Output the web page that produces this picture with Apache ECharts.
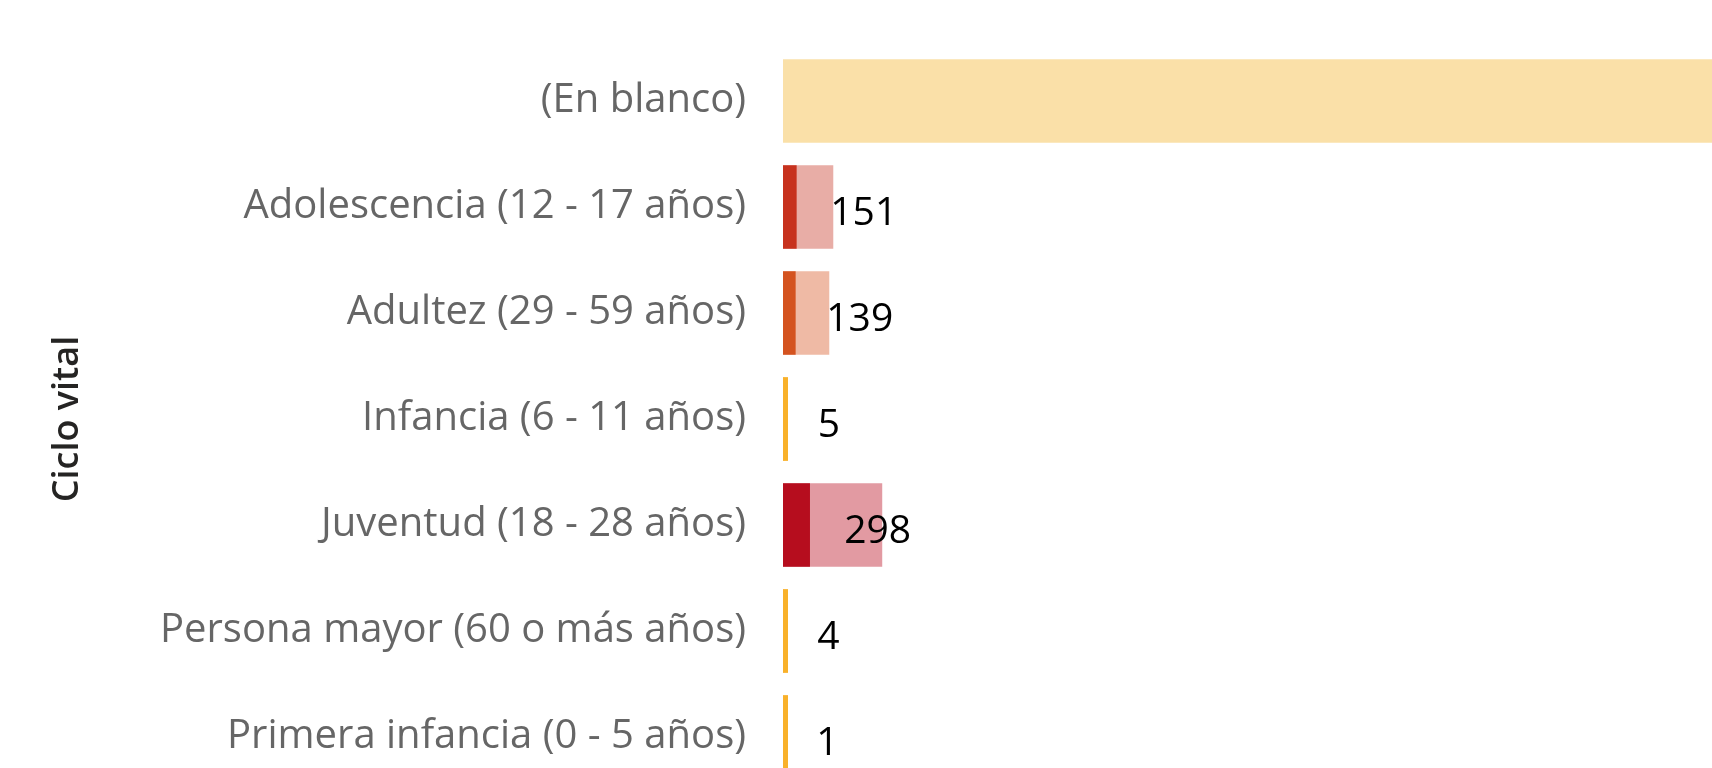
<!DOCTYPE html>
<html>
<head>
<meta charset="utf-8">
<script src="https://cdn.jsdelivr.net/npm/echarts@6/dist/echarts.min.js"></script>
<style>
  html, body { margin: 0; padding: 0; background: #fff; }
  #chart { width: 1712px; height: 768px; }
</style>
</head>
<body>
<div id="chart"></div>
<script type="text/javascript">
// categorias del eje (de arriba a abajo)
var categories = [
  '(En blanco)',
  'Adolescencia (12 - 17 años)',
  'Adultez (29 - 59 años)',
  'Infancia (6 - 11 años)',
  'Juventud (18 - 28 años)',
  'Persona mayor (60 o más años)',
  'Primera infancia (0 - 5 años)'
];
// total por categoria (barra clara)
var totalValues = [3100, 151, 139, 5, 298, 4, 1];
// parte resaltada (barra oscura)
var highlightValues = [null, 41, 38, 5, 81, 4, 1];

var darkColors  = ['#F9B12A', '#C7321E', '#D4531F', '#F9B12A', '#B60D1E', '#F9B12A', '#F9B12A'];
var lightColors = ['#FAE0A8', '#E8ADA6', '#EFBAA5', '#FCDFA8', '#E29AA2', '#FCDFA8', '#FCDFA8'];

var chart = echarts.init(document.getElementById('chart'));

var fontFam = '"Open Sans", "Noto Sans", sans-serif';

var options = {
  animation: false,
  grid: { left: 783, right: 0, top: 48, height: 742, containLabel: false, outerBoundsMode: 'none' },
  xAxis: {
    type: 'value',
    min: 0,
    max: 2790,
    show: false
  },
  yAxis: {
    type: 'category',
    inverse: true,
    data: categories,
    name: 'Ciclo vital',
    nameLocation: 'middle',
    nameGap: 697,
    nameRotate: 90,
    nameTextStyle: { color: '#252423', fontSize: 36, fontWeight: 600, fontFamily: fontFam },
    axisLine: { show: false },
    axisTick: { show: false },
    axisLabel: { color: '#666666', fontSize: 40, margin: 37, fontFamily: fontFam, padding: [6, 0, 0, 0] }
  },
  series: [
    {
      name: 'total',
      type: 'bar',
      barCategoryGap: '21%',
      data: totalValues.map(function (v, i) {
        var lab = { show: i > 0, position: 'right', distance: -3, offset: [0, 7] };
        if (totalValues[i] < 20) { lab.distance = 33; }
        if (i === 4) { lab.distance = -38; }
        return { value: v, itemStyle: { color: lightColors[i] }, label: lab };
      }),
      label: { color: '#000', fontSize: 39, fontFamily: fontFam }
    },
    {
      name: 'resaltado',
      type: 'bar',
      barGap: '-100%',
      barMinHeight: 5,
      data: highlightValues.map(function (v, i) {
        return { value: v, itemStyle: { color: darkColors[i] } };
      })
    }
  ]
};
chart.setOption(options);
</script>
</body>
</html>
